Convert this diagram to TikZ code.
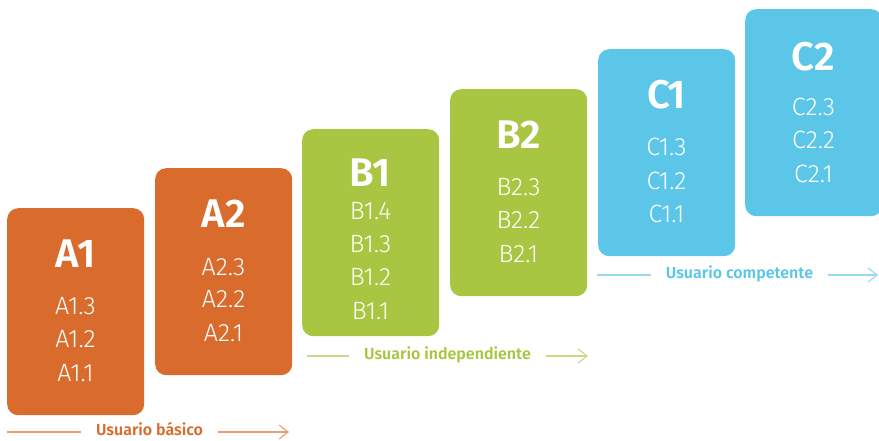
\documentclass[tikz,border=0pt]{standalone}
\usepackage{fontspec}
\setmainfont{Fira Sans}
\newfontfamily\itemfont{Fira Sans Light}
\newfontfamily\titlefont{Fira Sans SemiBold}
\usetikzlibrary{arrows.meta}
\definecolor{cora}{RGB}{217,108,45}
\definecolor{corb}{RGB}{169,198,66}
\definecolor{corc}{RGB}{92,198,232}
\tikzset{
  levelbox/.style={fill=#1, draw=none, rounded corners=11pt, minimum width=137pt, minimum height=207pt, anchor=north west, inner sep=0pt},
  ttl/.style={text=white, font=\titlefont\fontsize{40}{40}\selectfont, inner sep=0pt},
  itm/.style={text=white, font=\itemfont\fontsize{25}{25}\selectfont, inner sep=0pt},
  grp/.style={text=#1, font=\titlefont\fontsize{16}{16}\selectfont, inner xsep=15pt, inner ysep=0pt},
  grpline/.style={draw=#1!65, line width=1.1pt},
  grparrow/.style={draw=#1!65, line width=1.1pt, -{Straight Barb[length=9pt,width=14pt,line width=1.1pt]}}
}
\begin{document}
\begin{tikzpicture}[x=1pt,y=-1pt]
\useasboundingbox (0,0) rectangle (879,440);
% boxes
\node[levelbox=cora] (A1) at (7,208) {};
\node[levelbox=cora] (A2) at (155,168) {};
\node[levelbox=corb] (B1) at (302,129) {};
\node[levelbox=corb] (B2) at (450,89) {};
\node[levelbox=corc] (C1) at (598,49) {};
\node[levelbox=corc] (C2) at (745,9) {};
% A1
\node[ttl] (tA1) at (75.5,254) {A1};
\node[itm] (A13) at (75.5,306) {A1.3};
\node[itm] (A12) at (75.5,339) {A1.2};
\node[itm] (A11) at (75.5,373) {A1.1};
% A2
\node[ttl] (tA2) at (223.5,214) {A2};
\node[itm] (A23) at (223.5,267) {A2.3};
\node[itm] (A22) at (223.5,299) {A2.2};
\node[itm] (A21) at (223.5,333) {A2.1};
% B1
\node[ttl] (tB1) at (370.5,173) {B1};
\node[itm] (B14) at (370.5,211) {B1.4};
\node[itm] (B13) at (370.5,244) {B1.3};
\node[itm] (B12) at (370.5,277) {B1.2};
\node[itm] (B11) at (370.5,311) {B1.1};
% B2
\node[ttl] (tB2) at (518.5,135) {B2};
\node[itm] (B23) at (518.5,187) {B2.3};
\node[itm] (B22) at (518.5,220) {B2.2};
\node[itm] (B21) at (518.5,254) {B2.1};
% C1
\node[ttl] (tC1) at (666.5,95) {C1};
\node[itm] (C13) at (666.5,147) {C1.3};
\node[itm] (C12) at (666.5,181) {C1.2};
\node[itm] (C11) at (666.5,214) {C1.1};
% C2
\node[ttl] (tC2) at (813.5,57) {C2};
\node[itm] (C23) at (813.5,107) {C2.3};
\node[itm] (C22) at (813.5,140) {C2.2};
\node[itm] (C21) at (813.5,174) {C2.1};
% group labels
\node[grp=cora] (gA) at (149.5,429.5) {Usuario básico};
\coordinate (gAs) at (7,432);
\coordinate (gAe) at (289,432);
\draw[grpline=cora] (gAs) -- (gA.west |- gAs);
\draw[grparrow=cora] (gA.east |- gAe) -- (gAe);
\node[grp=corb] (gB) at (447.5,355) {Usuario independiente};
\coordinate (gBs) at (307,356);
\coordinate (gBe) at (588,356);
\draw[grpline=corb] (gBs) -- (gB.west |- gBs);
\draw[grparrow=corb] (gB.east |- gBe) -- (gBe);
\node[grp=corc] (gC) at (739.5,274) {Usuario competente};
\coordinate (gCs) at (597,275);
\coordinate (gCe) at (878,275);
\draw[grpline=corc] (gCs) -- (gC.west |- gCs);
\draw[grparrow=corc] (gC.east |- gCe) -- (gCe);
\end{tikzpicture}
\end{document}
